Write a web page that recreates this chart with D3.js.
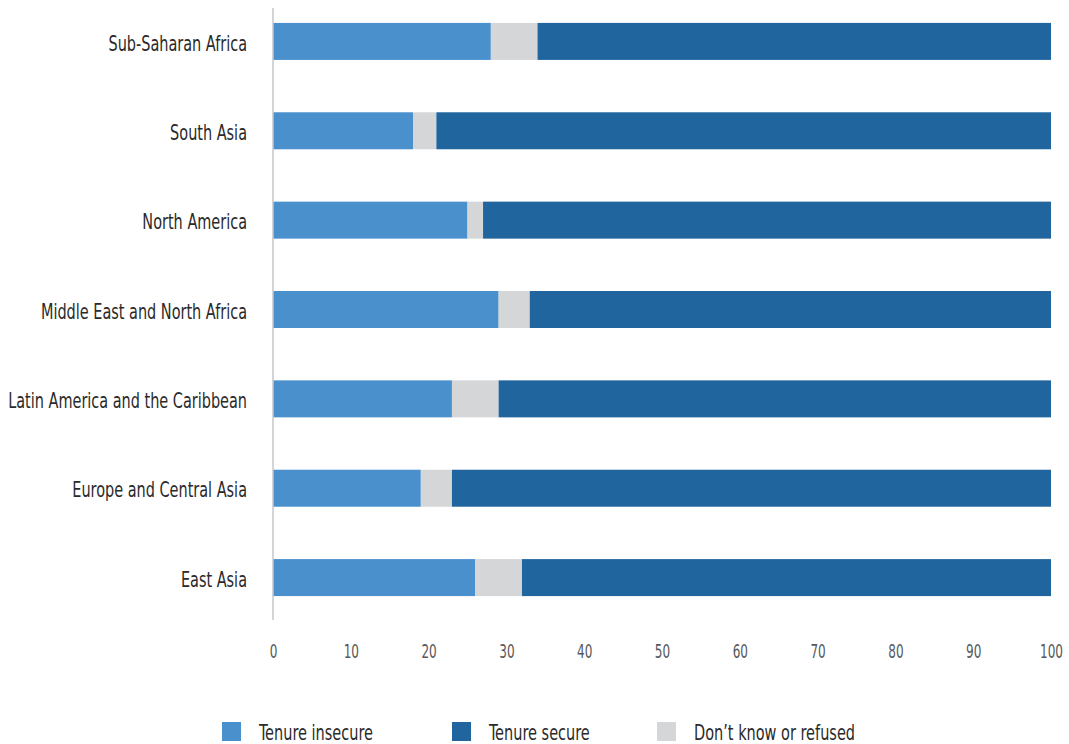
<!DOCTYPE html>
<html>
<head>
<meta charset="utf-8">
<script src="https://cdn.jsdelivr.net/npm/d3@7"></script>
<style>
  html, body { margin: 0; padding: 0; background: #fff; }
  svg { display: block; }
  text { font-family: "Liberation Sans Narrow", "Arial Narrow", "DejaVu Sans Condensed", sans-serif; }
</style>
</head>
<body>
<svg id="chart" width="1069" height="744"></svg>
<script>
const categories = [
  "Sub-Saharan Africa",
  "South Asia",
  "North America",
  "Middle East and North Africa",
  "Latin America and the Caribbean",
  "Europe and Central Asia",
  "East Asia"
];
const tenureInsecure = [28, 18, 25, 29, 23, 19, 26];
const dontKnow       = [6, 3, 2, 4, 6, 4, 6];
const tenureSecure   = [66, 79, 73, 67, 71, 77, 68];
const xTicks = [0, 10, 20, 30, 40, 50, 60, 70, 80, 90, 100];
const seriesNames = ["Tenure insecure", "Tenure secure", "Don\u2019t know or refused"];

const colors = {
  "Tenure insecure": "#4a90cd",
  "Tenure secure": "#21659f",
  "Don\u2019t know or refused": "#d5d6d8"
};

const svg = d3.select("#chart");

const x = d3.scaleLinear().domain([0, 100]).range([273, 1051]);
const y = d3.scaleBand().domain(categories).range([-3, 622]).paddingInner(0.586).paddingOuter(0.29);

const rows = categories.map((c, i) => ({
  cat: c,
  "Tenure insecure": tenureInsecure[i],
  "Don\u2019t know or refused": dontKnow[i],
  "Tenure secure": tenureSecure[i]
}));
const stackKeys = ["Tenure insecure", "Don\u2019t know or refused", "Tenure secure"];
const stacked = d3.stack().keys(stackKeys)(rows);

svg.append("g").selectAll("g")
  .data(stacked)
  .join("g")
  .attr("fill", d => colors[d.key])
  .selectAll("rect")
  .data(d => d)
  .join("rect")
  .attr("x", d => x(d[0]))
  .attr("width", d => x(d[1]) - x(d[0]))
  .attr("y", d => y(d.data.cat))
  .attr("height", y.bandwidth());

// vertical axis line
svg.append("line")
  .attr("x1", x(0)).attr("x2", x(0))
  .attr("y1", 8).attr("y2", 620)
  .attr("stroke", "#c6c7cb").attr("stroke-width", 1.5);

// category labels (compressed horizontally to imitate a condensed face)
const labelG = svg.append("g").selectAll("g")
  .data(categories)
  .join("g")
  .attr("transform", d => `translate(247,${y(d) + y.bandwidth() / 2})`);
const labels = labelG.append("text")
  .attr("text-anchor", "end")
  .attr("dy", "0.44em")
  .attr("fill", "#2b2a2b")
  .attr("font-size", 21)
  .text(d => d);
let maxW = 0;
labels.each(function() { maxW = Math.max(maxW, this.getComputedTextLength()); });
const sLab = maxW > 0 ? 239 / maxW : 1;
labels.attr("transform", `scale(${sLab},1)`);

// x axis tick labels
const xAxis = d3.axisBottom(x).tickValues(xTicks).tickSize(0).tickPadding(0);
const gx = svg.append("g").attr("transform", "translate(0,644)").call(xAxis);
gx.select(".domain").remove();
const tickTexts = gx.selectAll("text")
  .attr("font-size", 19.5)
  .attr("fill", "#58595b")
  .attr("font-family", "\"Liberation Sans Narrow\", \"Arial Narrow\", \"DejaVu Sans Condensed\", sans-serif");
let w100 = 0;
tickTexts.each(function(d) { if (d === 100) w100 = this.getComputedTextLength(); });
const sTick = w100 > 0 ? 23 / w100 : 1;
tickTexts.attr("transform", `scale(${sTick},1)`);

// legend
const legendX = [222, 452, 657];
const lg = svg.append("g").selectAll("g")
  .data(seriesNames)
  .join("g")
  .attr("transform", (d, i) => `translate(${legendX[i]},722)`);
lg.append("rect")
  .attr("width", 19).attr("height", 19)
  .attr("fill", d => colors[d]);
const legTexts = lg.append("g")
  .attr("transform", "translate(37,10)")
  .append("text")
  .attr("dy", "0.38em")
  .attr("font-size", 21)
  .attr("fill", "#2b2a2b")
  .text(d => d);
let wLeg = 0;
legTexts.each(function(d) { if (d === "Tenure insecure") wLeg = this.getComputedTextLength(); });
const sLeg = wLeg > 0 ? 114 / wLeg : 1;
legTexts.attr("transform", `scale(${sLeg},1)`);
</script>
</body>
</html>
